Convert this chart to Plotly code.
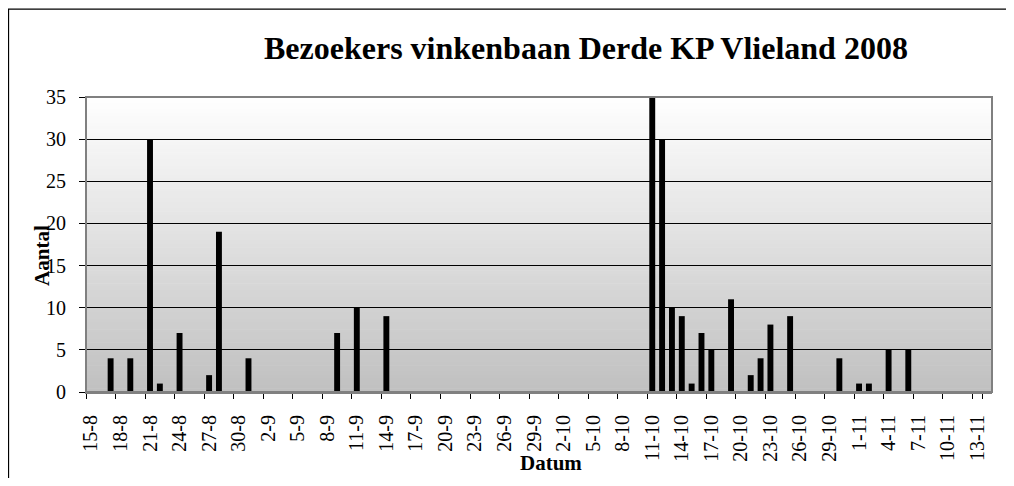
import plotly.graph_objects as go
import pandas as pd

# ---- data ----
title_text = "Bezoekers vinkenbaan Derde KP Vlieland 2008"
y_title = "Aantal"
x_title = "Datum"

start_date = "2008-08-15"
end_date = "2008-11-14"

visit_dates = ["17-8", "19-8", "21-8", "22-8", "24-8", "27-8", "28-8", "31-8",
               "9-9", "11-9", "14-9",
               "11-10", "12-10", "13-10", "14-10", "15-10", "16-10", "17-10",
               "19-10", "21-10", "22-10", "23-10", "25-10", "30-10",
               "1-11", "2-11", "4-11", "6-11"]
visit_counts = [4, 4, 30, 1, 7, 2, 19, 4,
                7, 10, 9,
                35, 30, 10, 9, 1, 7, 5,
                11, 2, 4, 8, 9, 4,
                1, 1, 5, 5]

y_ticks = [0, 5, 10, 15, 20, 25, 30, 35]

# ---- build ----
days = pd.date_range(start_date, end_date, freq="D")
all_days = [f"{d.day}-{d.month}" for d in days]
count_map = dict(zip(visit_dates, visit_counts))
y_all = [count_map.get(d, 0) for d in all_days]
tick_days = all_days[::3]

FONT = "Liberation Serif"

fig = go.Figure()
fig.add_trace(go.Bar(
    x=all_days, y=y_all,
    marker=dict(color="black", line=dict(width=0)),
    width=0.6,
    hoverinfo="x+y",
))

# gradient background bands
shapes = []
N = 90
top = (255, 255, 255)
bot = (192, 192, 192)
for i in range(N):
    t = (i + 0.5) / N
    c = tuple(int(round(top[k] + (bot[k] - top[k]) * t)) for k in range(3))
    shapes.append(dict(
        type="rect", xref="paper", yref="paper",
        x0=0, x1=1, y0=1 - (i + 1) / N, y1=1 - i / N + 0.002,
        fillcolor=f"rgb{c}", line=dict(width=0), layer="below",
    ))
# plot area border (gray)
shapes.append(dict(type="rect", xref="paper", yref="paper", x0=0, x1=1, y0=0, y1=1,
                   line=dict(color="#808080", width=2), layer="above"))
# outer chart border
shapes.append(dict(type="rect", xref="paper", yref="paper",
                   x0=-0.0855, x1=1.1, y0=-0.45, y1=1.298,
                   line=dict(color="black", width=1.2), layer="above"))

fig.update_layout(
    width=998, height=470,
    margin=dict(l=78, r=14, t=89, b=86),
    paper_bgcolor="white",
    plot_bgcolor="white",
    showlegend=False,
    font=dict(family=FONT, size=20, color="black"),
    shapes=shapes,
    annotations=[
        dict(text=f"<b>{title_text}</b>", xref="paper", yref="paper",
             x=0.552, y=1.166, xanchor="center", yanchor="middle",
             showarrow=False, font=dict(family=FONT, size=32, color="black")),
        dict(text=f"<b>{x_title}</b>", xref="paper", yref="paper",
             x=0.513, y=-0.239, xanchor="center", yanchor="middle",
             showarrow=False, font=dict(family=FONT, size=21, color="black")),
        dict(text=f"<b>{y_title}</b>", xref="paper", yref="paper",
             x=-0.0486, y=0.4645, xanchor="center", yanchor="middle", textangle=-90,
             showarrow=False, font=dict(family=FONT, size=21, color="black")),
    ],
)

fig.update_xaxes(
    type="category",
    categoryorder="array", categoryarray=all_days,
    range=[-0.5, len(all_days) - 0.5],
    tickmode="array", tickvals=tick_days, ticktext=tick_days,
    tickson="boundaries",
    ticks="outside", ticklen=5, tickcolor="black", tickwidth=1,
    tickangle=-90,
    ticklabelstandoff=13,
    tickfont=dict(family=FONT, size=20, color="black"),
    showgrid=False,
    showline=True, linecolor="#808080", linewidth=2,
    fixedrange=True,
)
fig.update_yaxes(
    range=[0, 35],
    tickmode="array", tickvals=y_ticks,
    ticks="outside", ticklen=6, tickcolor="black", tickwidth=1,
    ticklabelstandoff=9,
    tickfont=dict(family=FONT, size=20, color="black"),
    showgrid=True, gridcolor="black", gridwidth=1,
    showline=True, linecolor="black", linewidth=1,
    zeroline=False,
    fixedrange=True,
)

fig.write_html("out.html")
